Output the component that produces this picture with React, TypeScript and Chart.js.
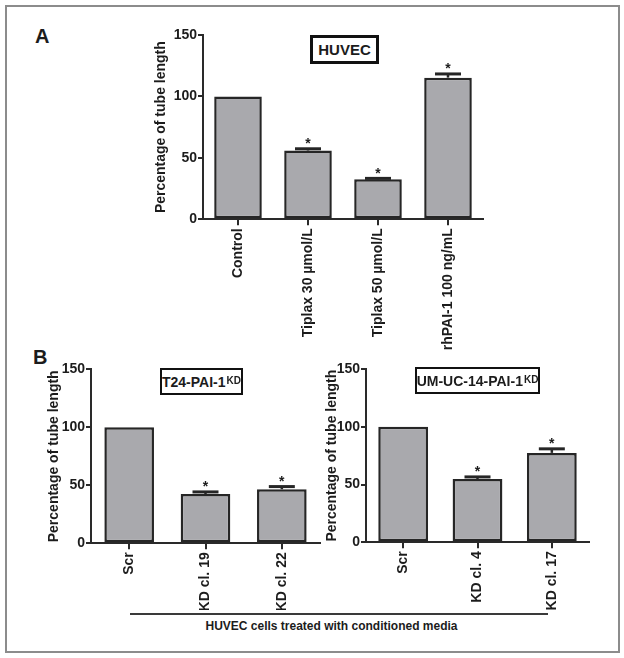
import React, { useEffect, useRef } from "react";
import { Chart, registerables } from "chart.js";

Chart.register(...registerables);

// ---------- data ----------
const panelACategories = ["Control", "Tiplax 30 µmol/L", "Tiplax 50 µmol/L", "rhPAI-1 100 ng/mL"];
const panelAValues = [100, 56, 32.5, 115.3];
const panelAErrors = [0, 1.4, 0.8, 3.0];
const panelASignificant = [false, true, true, true];

const panelB1Categories = ["Scr", "KD cl. 19", "KD cl. 22"];
const panelB1Values = [100, 42.5, 46.6];
const panelB1Errors = [0, 1.8, 2.3];
const panelB1Significant = [false, true, true];

const panelB2Categories = ["Scr", "KD cl. 4", "KD cl. 17"];
const panelB2Values = [100, 54.8, 77.4];
const panelB2Errors = [0, 1.8, 3.5];
const panelB2Significant = [false, true, true];

const yTicks = [0, 50, 100, 150];
const yAxisTitle = "Percentage of tube length";

const FONT = "'Liberation Sans', Arial, Helvetica, sans-serif";
const INK = "#1c1c1c";

const errorBarPlugin = {
  id: "errorBars",
  afterDatasetsDraw(chart: any, _args: any, opts: any) {
    const { ctx } = chart;
    const meta = chart.getDatasetMeta(0);
    const y = chart.scales.y;
    const values: number[] = chart.data.datasets[0].data;
    const errors: number[] = opts.errors || [];
    const sig: boolean[] = opts.significant || [];
    ctx.save();
    meta.data.forEach((bar: any, i: number) => {
      const err = errors[i] || 0;
      const x = bar.x;
      const yTopVal = values[i] + err;
      const yTop = y.getPixelForValue(yTopVal);
      if (err > 0) {
        const yBar = y.getPixelForValue(values[i]);
        ctx.strokeStyle = "#262626";
        ctx.lineWidth = 2.5;
        ctx.beginPath();
        ctx.moveTo(x, yBar);
        ctx.lineTo(x, yTop);
        ctx.stroke();
        ctx.lineWidth = 3;
        ctx.beginPath();
        ctx.moveTo(x - 13, yTop);
        ctx.lineTo(x + 13, yTop);
        ctx.stroke();
      }
      if (sig[i]) {
        ctx.fillStyle = INK;
        ctx.font = `bold 14px ${FONT}`;
        ctx.textAlign = "center";
        ctx.textBaseline = "alphabetic";
        ctx.fillText("*", x, yTop - 0.5);
      }
    });
    ctx.restore();
  },
};

type Spec = {
  labels: string[];
  values: number[];
  errors: number[];
  significant: boolean[];
  left: number;
  top: number;
  width: number;
  height: number;
  yWidth: number;
  titlePad: number;
  padTop: number;
  padRight: number;
  xHeight: number;
  barPct: number;
};

function BarPanel({ spec }: { spec: Spec }) {
  const ref = useRef<HTMLCanvasElement | null>(null);
  useEffect(() => {
    if (!ref.current) return;
    const chart = new Chart(ref.current, {
      type: "bar",
      data: {
        labels: spec.labels,
        datasets: [
          {
            data: spec.values,
            backgroundColor: "#a9a9ad",
            borderColor: "#262626",
            borderWidth: 2.5,
            borderSkipped: false,
            barPercentage: spec.barPct,
            categoryPercentage: 1,
          },
        ],
      },
      options: {
        responsive: false,
        animation: false,
        devicePixelRatio: 1,
        layout: { padding: { top: spec.padTop, right: spec.padRight, left: 0, bottom: 0 } },
        plugins: {
          legend: { display: false },
          tooltip: { enabled: false },
          errorBars: { errors: spec.errors, significant: spec.significant },
        } as any,
        scales: {
          x: {
            grid: {
              display: true,
              drawOnChartArea: false,
              drawTicks: true,
              tickLength: 6,
              offset: false,
              color: "#2a2a2a",
              lineWidth: 2,
            },
            border: { display: true, color: "#2a2a2a", width: 2 },
            ticks: {
              minRotation: 90,
              maxRotation: 90,
              padding: 3,
              color: INK,
              font: { family: FONT, size: 14, weight: "bold" },
            },
            afterFit: (scale: any) => {
              scale.height = spec.xHeight;
            },
          },
          y: {
            min: 0,
            max: 150,
            afterBuildTicks: (scale: any) => {
              scale.ticks = yTicks.map((v) => ({ value: v }));
            },
            grid: {
              display: true,
              drawOnChartArea: false,
              drawTicks: true,
              tickLength: 5,
              color: "#2a2a2a",
              lineWidth: 2,
            },
            border: { display: true, color: "#2a2a2a", width: 2 },
            ticks: {
              padding: 1,
              color: INK,
              font: { family: FONT, size: 14, weight: "bold" },
            },
            title: {
              display: true,
              text: yAxisTitle,
              color: INK,
              font: { family: FONT, size: 14, weight: "bold" },
              padding: { top: spec.titlePad, bottom: 0 },
            },
            afterFit: (scale: any) => {
              scale.width = spec.yWidth;
            },
          },
        },
      } as any,
      plugins: [errorBarPlugin as any],
    });
    return () => chart.destroy();
  }, []);
  return (
    <canvas
      ref={ref}
      width={spec.width}
      height={spec.height}
      style={{ position: "absolute", left: spec.left, top: spec.top, width: spec.width, height: spec.height }}
    />
  );
}

const specA: Spec = {
  labels: panelACategories,
  values: panelAValues,
  errors: panelAErrors,
  significant: panelASignificant,
  left: 145,
  top: 25,
  width: 360,
  height: 330,
  yWidth: 58,
  titlePad: 7.6,
  padTop: 10,
  padRight: 22,
  xHeight: 135.7,
  barPct: 0.68,
};

const specB1: Spec = {
  labels: panelB1Categories,
  values: panelB1Values,
  errors: panelB1Errors,
  significant: panelB1Significant,
  left: 42,
  top: 355,
  width: 293,
  height: 255,
  yWidth: 49,
  titlePad: 3.6,
  padTop: 14.3,
  padRight: 15,
  xHeight: 66.7,
  barPct: 0.65,
};

const specB2: Spec = {
  labels: panelB2Categories,
  values: panelB2Values,
  errors: panelB2Errors,
  significant: panelB2Significant,
  left: 320,
  top: 355,
  width: 285,
  height: 255,
  yWidth: 46,
  titlePad: 3.6,
  padTop: 14,
  padRight: 16,
  xHeight: 67.7,
  barPct: 0.67,
};

const boxStyle = (left: number, top: number, width: number, height: number, bw: number): React.CSSProperties => ({
  position: "absolute",
  left,
  top,
  width,
  height,
  boxSizing: "border-box",
  border: `${bw}px solid #111`,
  display: "flex",
  alignItems: "center",
  justifyContent: "center",
  fontFamily: FONT,
  fontWeight: "bold",
  color: INK,
  background: "#fff",
  whiteSpace: "nowrap",
});

const supStyle: React.CSSProperties = {
  fontSize: 10,
  position: "relative",
  top: -3,
  lineHeight: "10px",
  marginLeft: 1,
};

export default function App() {
  return (
    <div style={{ position: "absolute", left: 0, top: 0, width: 624, height: 658, background: "#fff", overflow: "hidden" }}>
      <div
        style={{
          position: "absolute",
          left: 5,
          top: 5,
          width: 615,
          height: 648,
          boxSizing: "border-box",
          border: "2px solid #8c8c8c",
        }}
      />
      <div style={{ position: "absolute", left: 35, top: 25.5, fontFamily: FONT, fontWeight: "bold", fontSize: 20, lineHeight: "20px", color: INK }}>A</div>
      <div style={{ position: "absolute", left: 33, top: 346.5, fontFamily: FONT, fontWeight: "bold", fontSize: 20, lineHeight: "20px", color: INK }}>B</div>

      <BarPanel spec={specA} />
      <BarPanel spec={specB1} />
      <BarPanel spec={specB2} />

      <div style={{ ...boxStyle(310, 35, 69, 29, 3), fontSize: 15 }}>HUVEC</div>
      <div style={{ ...boxStyle(160, 367.5, 83, 27, 2.5), fontSize: 14, alignItems: "baseline", paddingTop: 4 }}>
        <span style={{ lineHeight: "16px" }}>T24-PAI-1</span>
        <span style={supStyle}>KD</span>
      </div>
      <div style={{ ...boxStyle(415, 367, 125, 27, 2.5), fontSize: 14, alignItems: "baseline", paddingTop: 4 }}>
        <span style={{ lineHeight: "16px" }}>UM-UC-14-PAI-1</span>
        <span style={supStyle}>KD</span>
      </div>

      <div style={{ position: "absolute", left: 130, top: 613, width: 418, height: 2, background: "#3a3a3a" }} />
      <div
        style={{
          position: "absolute",
          left: 131.5,
          top: 620,
          width: 400,
          textAlign: "center",
          fontFamily: FONT,
          fontWeight: "bold",
          fontSize: 12,
          lineHeight: "12px",
          color: INK,
          whiteSpace: "nowrap",
        }}
      >
        HUVEC cells treated with conditioned media
      </div>
    </div>
  );
}
